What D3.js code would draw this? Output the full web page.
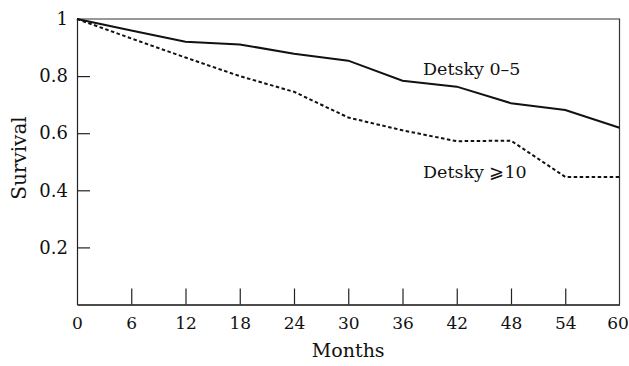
<!DOCTYPE html>
<html>
<head>
<meta charset="utf-8">
<script src="https://cdn.jsdelivr.net/npm/d3@7"></script>
<style>
	body { margin: 0; background: #fff; }
	text { font-family: "DejaVu Serif", serif; fill: #111; }
</style>
</head>
<body>
<div id="chart"></div>
<script>
// months on the x axis
const months = [0, 6, 12, 18, 24, 30, 36, 42, 48, 54, 60];
// survival, Detsky score 0-5 (solid)
const detskyLow = [1.0, 0.96, 0.92, 0.911, 0.878, 0.854, 0.784, 0.763, 0.705, 0.681, 0.619];
// survival, Detsky score >=10 (dotted)
const detskyHigh = [1.0, 0.932, 0.865, 0.80, 0.745, 0.655, 0.61, 0.572, 0.574, 0.447, 0.447];
const xTicks = [0, 6, 12, 18, 24, 30, 36, 42, 48, 54, 60];
const yTicks = [0.2, 0.4, 0.6, 0.8, 1];
const seriesNames = ["Detsky 0\u20135", "Detsky \u2A7E10"];

const width = 629, height = 366;
const margin = { top: 19, right: 9.5, bottom: 62, left: 77 };

const svg = d3.select("#chart").append("svg")
	.attr("width", width)
	.attr("height", height);

const x = d3.scaleLinear().domain([0, 60]).range([margin.left, width - margin.right]);
const y = d3.scaleLinear().domain([0, 1]).range([height - margin.bottom + 0.5, margin.top]);

// frame: top and right edges
svg.append("path")
	.attr("d", `M${x(0)},${y(1)}H${x(60)}V${y(0)}`)
	.attr("fill", "none")
	.attr("stroke", "#333")
	.attr("stroke-width", 1.2);

// x axis, ticks pointing inward
const xAxis = svg.append("g")
	.attr("transform", `translate(0,${y(0)})`)
	.call(d3.axisBottom(x).tickValues(xTicks).tickSizeInner(-16).tickSizeOuter(0).tickPadding(12));
xAxis.select(".domain").attr("stroke", "#111").attr("stroke-width", 1.6);
xAxis.selectAll(".tick line").attr("stroke", "#222").attr("stroke-width", 1.2);
xAxis.selectAll(".tick text").attr("font-size", 17).attr("font-family", "DejaVu Serif, serif").attr("fill", "#111");
xAxis.selectAll(".tick").filter(d => d === 0 || d === 60).select("line").remove();
xAxis.selectAll(".tick").filter(d => d === 60).select("text").attr("dx", -2);

// y axis, ticks pointing inward
const yAxis = svg.append("g")
	.attr("transform", `translate(${x(0)},0)`)
	.call(d3.axisLeft(y).tickValues(yTicks).tickFormat(d => d === 1 ? "1" : d3.format(".1f")(d))
		.tickSizeInner(-13).tickSizeOuter(0).tickPadding(9));
yAxis.select(".domain").attr("stroke", "#222").attr("stroke-width", 1.2);
yAxis.selectAll(".tick line").attr("stroke", "#222").attr("stroke-width", 1.2);
yAxis.selectAll(".tick text").attr("font-size", 18).attr("font-family", "DejaVu Serif, serif").attr("fill", "#111");
yAxis.selectAll(".tick").filter(d => d === 1).select("line").remove();

// axis titles
svg.append("text")
	.attr("x", (x(0) + x(60)) / 2)
	.attr("y", 357)
	.attr("text-anchor", "middle")
	.attr("font-size", 19)
	.text("Months");

svg.append("text")
	.attr("transform", `translate(26,158) rotate(-90)`)
	.attr("text-anchor", "middle")
	.attr("font-size", 20)
	.text("Survival");

// survival curves
const line = d3.line()
	.x((d, i) => x(months[i]))
	.y(d => y(d));

svg.append("path")
	.datum(detskyLow)
	.attr("d", line)
	.attr("fill", "none")
	.attr("stroke", "#111")
	.attr("stroke-width", 2);

svg.append("path")
	.datum(detskyHigh)
	.attr("d", line)
	.attr("fill", "none")
	.attr("stroke", "#111")
	.attr("stroke-width", 2)
	.attr("stroke-dasharray", "3.5,2.5");

// curve labels
svg.append("text")
	.attr("x", 423)
	.attr("y", 75)
	.attr("font-size", 17.5)
	.text(seriesNames[0]);

svg.append("text")
	.attr("x", 423)
	.attr("y", 178)
	.attr("font-size", 17.5)
	.text(seriesNames[1]);
</script>
</body>
</html>
